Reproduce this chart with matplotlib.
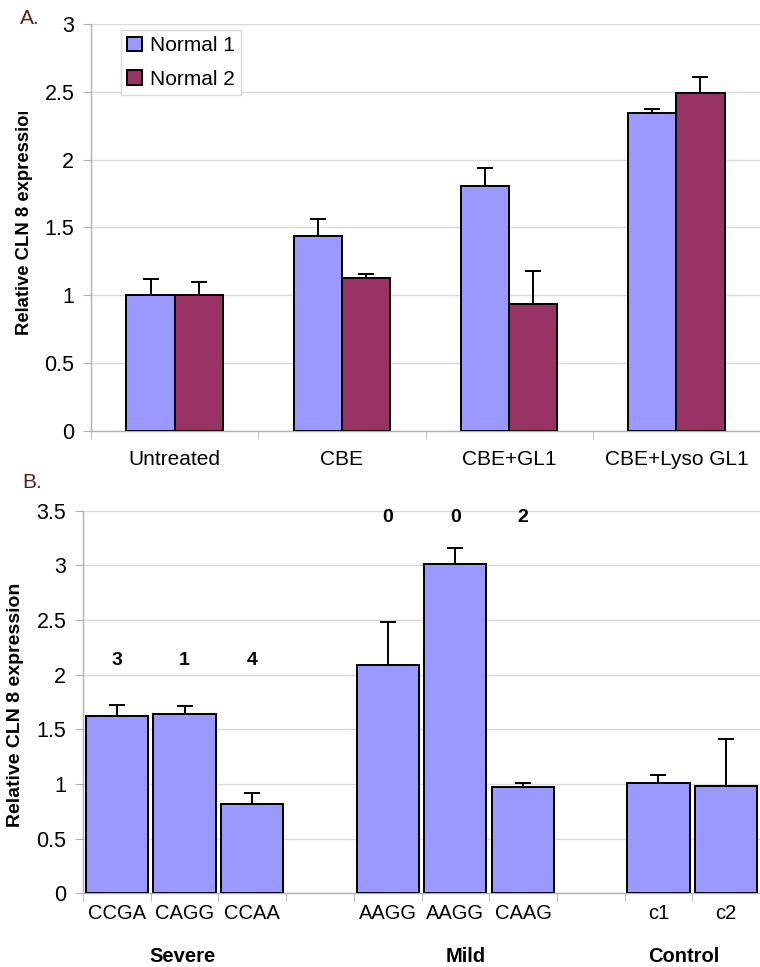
import matplotlib
matplotlib.use("Agg")
import matplotlib.pyplot as plt
import numpy as np
from matplotlib.transforms import Bbox, IdentityTransform, TransformedBbox

plt.rcParams["font.family"] = ["Liberation Sans", "DejaVu Sans"]

# Panel A data
a_categories = ["Untreated", "CBE", "CBE+GL1", "CBE+Lyso GL1"]
a_series = ["Normal 1", "Normal 2"]
a_normal1 = [1.00, 1.435, 1.805, 2.345]
a_normal1_err = [0.12, 0.13, 0.13, 0.03]
a_normal2 = [1.00, 1.13, 0.936, 2.49]
a_normal2_err = [0.10, 0.03, 0.24, 0.12]

# Panel B data
b_labels = ["CCGA", "CAGG", "CCAA", "", "AAGG", "AAGG", "CAAG", "", "c1", "c2"]
b_values = [1.625, 1.64, 0.817, np.nan, 2.089, 3.01, 0.97, np.nan, 1.012, 0.985]
b_errors = [0.10, 0.07, 0.10, np.nan, 0.39, 0.15, 0.04, np.nan, 0.07, 0.43]
b_counts = ["3", "1", "4", "", "0", "0", "2", "", "", ""]
b_groups = ["Severe", "Mild", "Control"]

BLUE = "#9999ff"
MAROON = "#993366"
GRID = "#d9d9d9"
AXIS = "#b0b0b0"

W, H = 760, 967
fig = plt.figure(figsize=(W / 100, H / 100), dpi=100)


def px_axes(left, top, right, bottom):
    return fig.add_axes([left / W, 1 - bottom / H, (right - left) / W, (bottom - top) / H])


def style_axes(ax, n_cats, ypad):
    ax.set_axisbelow(True)
    ax.yaxis.grid(True, color=GRID, linewidth=1.0)
    for side in ("top", "right"):
        ax.spines[side].set_visible(False)
    for side in ("left", "bottom"):
        ax.spines[side].set_color(AXIS)
        ax.spines[side].set_linewidth(1.0)
    ax.set_xticks(np.arange(n_cats))
    ax.set_xticks(np.arange(n_cats + 1) - 0.5, minor=True)
    ax.tick_params(axis="x", which="major", length=0, labelsize=15)
    ax.tick_params(axis="x", which="minor", length=6, color=AXIS)
    ax.tick_params(axis="y", length=6, color=AXIS, labelsize=15.5, pad=ypad)


# ---------------- Panel A ----------------
axA = px_axes(91, 24, 760, 431)
x = np.arange(len(a_categories))
bw = 0.288
err_kw = dict(ecolor="black", elinewidth=1.4, capsize=5.5, capthick=1.4)
axA.bar(x - bw / 2, a_normal1, bw, color=BLUE, edgecolor="black", linewidth=1.4,
        label=a_series[0], zorder=3)
axA.bar(x + bw / 2, a_normal2, bw, color=MAROON, edgecolor="black", linewidth=1.4,
        label=a_series[1], zorder=3)
axA.errorbar(x - bw / 2, a_normal1, yerr=[np.zeros(4), a_normal1_err], fmt="none", zorder=2, **err_kw)
axA.errorbar(x + bw / 2, a_normal2, yerr=[np.zeros(4), a_normal2_err], fmt="none", zorder=2, **err_kw)
axA.set_ylim(0, 3)
axA.set_yticks(np.arange(0, 3.01, 0.5))
axA.set_yticklabels(["0", "0.5", "1", "1.5", "2", "2.5", "3"])
axA.set_xlim(-0.5, -0.5 + 669 / 169)
style_axes(axA, len(a_categories), ypad=6)
axA.set_xticklabels(a_categories)
axA.tick_params(axis="x", which="major", pad=14)

leg = axA.legend(loc="upper left", bbox_to_anchor=(30 / 669, 1 - 6 / 407), fontsize=15,
                 frameon=True, fancybox=False, edgecolor="#d0d0d0", handlelength=0.7,
                 handleheight=0.7, handletextpad=0.4, labelspacing=0.7, borderpad=0.3,
                 borderaxespad=0)
leg.get_frame().set_linewidth(1.0)

ylA = axA.set_ylabel("Relative CLN 8 expression", fontsize=13.3, fontweight="bold")
axA.yaxis.set_label_coords(-58 / 669, (431 - 219) / 407)
ylA.set_clip_box(TransformedBbox(Bbox([[0, 0], [W, H - 112]]), IdentityTransform()))
ylA.set_clip_on(True)

fig.text(20 / W, 1 - 19 / H, "A.", fontsize=15, color="#5a2020", va="center", ha="left")

# ---------------- Panel B ----------------
axB = px_axes(83, 510.7, 760, 893.3)
xb = np.arange(len(b_labels))
vals = np.array(b_values)
errs = np.array(b_errors)
ok = ~np.isnan(vals)
axB.bar(xb[ok], vals[ok], 0.92, color=BLUE, edgecolor="black", linewidth=1.4, zorder=3)
axB.errorbar(xb[ok], vals[ok], yerr=[np.zeros(ok.sum()), errs[ok]], fmt="none", zorder=2, **err_kw)
axB.set_ylim(0, 3.5)
axB.set_yticks(np.arange(0, 3.51, 0.5))
axB.set_yticklabels(["0", "0.5", "1", "1.5", "2", "2.5", "3", "3.5"])
axB.set_xlim(-0.5, -0.5 + 677 / 68)
style_axes(axB, len(b_labels), ypad=6)
axB.set_xticklabels(b_labels)
axB.tick_params(axis="x", which="major", pad=8, labelsize=14.5)

count_height = {0: 2.13, 1: 2.13, 2: 2.13, 4: 3.436, 5: 3.436, 6: 3.436}
for i, txt in enumerate(b_counts):
    if txt:
        axB.text(xb[i], count_height[i], txt, ha="center", va="center",
                 fontsize=14, fontweight="bold")

group_x = [0.97, 5.16, 8.37]
for gx, name in zip(group_x, b_groups):
    axB.text(gx, -63.4 / 382.6, name, transform=axB.get_xaxis_transform(),
             ha="center", va="center", fontsize=14.5, fontweight="bold")

axB.set_ylabel("Relative CLN 8 expression", fontsize=14, fontweight="bold")
axB.yaxis.set_label_coords(-59 / 677, (893.3 - 705) / 382.6)

fig.text(22 / W, 1 - 482 / H, "B.", fontsize=15, color="#5a2020", va="center", ha="left")

fig.savefig("out.png", dpi=100)
